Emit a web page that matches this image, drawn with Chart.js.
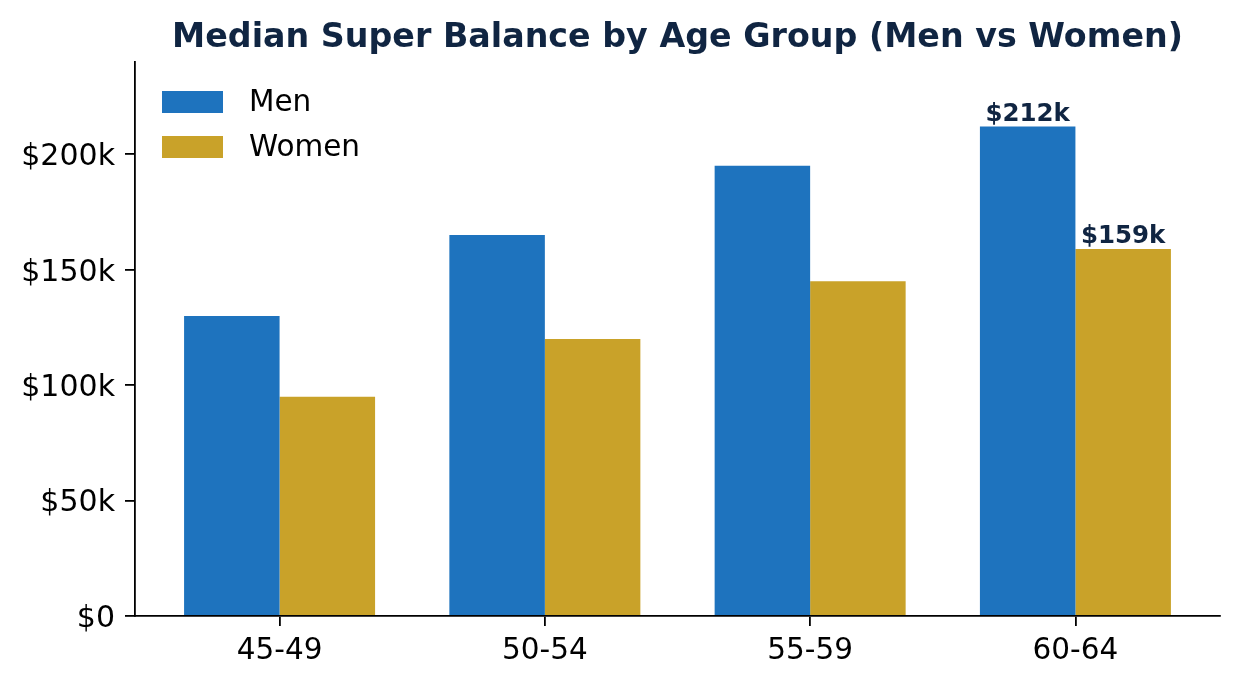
<!DOCTYPE html>
<html>
<head>
<meta charset="utf-8">
<title>Median Super Balance by Age Group</title>
<script src="https://cdn.jsdelivr.net/npm/chart.js@4.4.1/dist/chart.umd.min.js"></script>
<style>
  html, body { margin: 0; padding: 0; background: #ffffff; }
  #wrap { width: 1239px; height: 685px; position: relative; }
</style>
</head>
<body>
<div id="wrap"><canvas id="superChart"></canvas></div>
<script>
const ageGroups = ['45-49', '50-54', '55-59', '60-64'];
const menBalance = [130, 165, 195, 212];     // $k
const womenBalance = [95, 120, 145, 159];    // $k
const yTicks = [0, 50, 100, 150, 200];
const labelledGroup = 3;

const navy = '#102542';
const font = "'DejaVu Sans', sans-serif";

const toPoints = vals => vals.map((v, i) => ({ x: i, y: v }));

// legend drawn inside the plot, top left (like matplotlib loc='upper left', frameon=False)
const innerLegend = {
  id: 'innerLegend',
  afterDraw(chart) {
    const ctx = chart.ctx;
    ctx.save();
    ctx.font = '29.5px ' + font;
    ctx.textAlign = 'left';
    ctx.textBaseline = 'alphabetic';
    chart.data.datasets.forEach((ds, i) => {
      const top = 91 + i * 45;
      ctx.fillStyle = ds.backgroundColor;
      ctx.fillRect(162, top, 61, 22);
      ctx.fillStyle = '#000000';
      ctx.fillText(ds.label, 249, top + 20);
    });
    ctx.restore();
  }
};

// value labels above the last age group
const barValues = {
  id: 'barValues',
  afterDatasetsDraw(chart) {
    const ctx = chart.ctx;
    ctx.save();
    ctx.font = 'bold 24.5px ' + font;
    ctx.fillStyle = navy;
    ctx.textAlign = 'center';
    ctx.textBaseline = 'alphabetic';
    chart.data.datasets.forEach((ds, i) => {
      const bar = chart.getDatasetMeta(i).data[labelledGroup];
      const v = ds.data[labelledGroup].y;
      ctx.fillText('$' + v + 'k', bar.x, bar.y - 6);
    });
    ctx.restore();
  }
};

const ctx = document.getElementById('superChart').getContext('2d');
new Chart(ctx, {
  type: 'bar',
  data: {
    datasets: [
      {
        label: 'Men',
        data: toPoints(menBalance),
        backgroundColor: '#1E73BE',
        borderWidth: 0,
        categoryPercentage: 0.72,
        barPercentage: 1.0
      },
      {
        label: 'Women',
        data: toPoints(womenBalance),
        backgroundColor: '#C9A229',
        borderWidth: 0,
        categoryPercentage: 0.72,
        barPercentage: 1.0
      }
    ]
  },
  options: {
    responsive: true,
    maintainAspectRatio: false,
    animation: false,
    layout: { padding: { left: 0, right: 19, top: 0, bottom: 0 } },
    plugins: {
      legend: { display: false },
      tooltip: { enabled: false },
      title: {
        display: true,
        text: 'Median Super Balance by Age Group (Men vs Women)',
        fullSize: false,
        color: navy,
        font: { family: font, size: 33.3, weight: 'bold', lineHeight: 1.2 },
        padding: { top: 18, bottom: 4 }
      }
    },
    scales: {
      x: {
        type: 'linear',
        min: -0.545,
        max: 3.545,
        offset: false,
        afterBuildTicks: scale => {
          scale.ticks = ageGroups.map((_, i) => ({ value: i }));
        },
        afterFit: scale => { scale.height = 69; },
        ticks: {
          color: '#000000',
          font: { family: font, size: 29.5 },
          padding: 8,
          maxRotation: 0,
          autoSkip: false,
          callback: value => ageGroups[value]
        },
        grid: {
          offset: false,
          drawOnChartArea: false,
          drawTicks: true,
          tickLength: 10,
          tickColor: '#000000',
          tickWidth: 1.8,
          lineWidth: 1.8
        },
        border: { display: true, color: '#000000', width: 1.8 }
      },
      y: {
        min: 0,
        max: 240,
        afterBuildTicks: scale => {
          scale.ticks = yTicks.map(v => ({ value: v }));
        },
        afterFit: scale => { scale.width = 135; },
        ticks: {
          color: '#000000',
          font: { family: font, size: 30 },
          padding: 10,
          labelOffset: 3,
          callback: value => value === 0 ? '$0' : '$' + value + 'k'
        },
        grid: {
          drawOnChartArea: false,
          drawTicks: true,
          tickLength: 10,
          tickColor: '#000000',
          tickWidth: 1.8,
          lineWidth: 1.8
        },
        border: { display: true, color: '#000000', width: 1.8 }
      }
    }
  },
  plugins: [innerLegend, barValues]
});
</script>
</body>
</html>
